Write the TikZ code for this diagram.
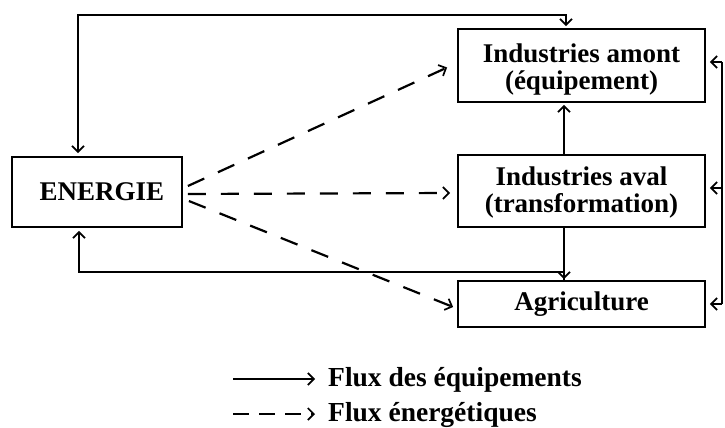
\documentclass[tikz,border=0pt]{standalone}
\usepackage{fontspec}
\setmainfont{Liberation Serif}
\usetikzlibrary{arrows.meta,calc}
\tikzset{tip/.tip={Straight Barb[length=6pt,width=12pt,line width=1.7pt]}}
\begin{document}
\begin{tikzpicture}[x=1pt,y=-1pt,
  box/.style={draw,line width=1.8pt,inner sep=0pt,align=center,
    font=\bfseries\fontsize{27}{27}\selectfont},
  eq/.style={line width=2pt,-tip},
  eqline/.style={line width=2pt},
  en/.style={line width=2.2pt,dash pattern=on 18pt off 15pt,-tip},
  lab/.style={inner sep=0pt,font=\bfseries\fontsize{27.5}{28}\selectfont}]
\useasboundingbox (0,0) rectangle (725,428);
\fill[white] (0,0) rectangle (725,428);
% boxes
\node[box,minimum width=247pt,minimum height=73pt] (amont) at (581.5,65.5) {};
\node[box,minimum width=247pt,minimum height=72pt] (aval) at (581.5,191) {};
\node[box,minimum width=247pt,minimum height=46pt] (agri) at (581.5,304) {};
\node[box,minimum width=170pt,minimum height=70pt] (energie) at (97,192) {};
\node[box,draw=none,anchor=center] (tamont) at ($(amont.center)+(0,4)$) {Industries amont\\(équipement)};
\node[box,draw=none,anchor=center] (taval) at ($(aval.center)+(0,2)$) {Industries aval\\(transformation)};
\node[box,draw=none,anchor=center] (tagri) at (agri.center) {Agriculture};
\node[box,draw=none,anchor=center] (tener) at ($(energie.center)+(5,0)$) {ENERGIE};
% coordinates
\coordinate (topL) at (78,15);
\coordinate (topR) at (566,15);
\coordinate (vx) at (564,0);
\coordinate (botL) at (79,272);
\coordinate (botR) at (564,272);
\coordinate (bus1) at (722,62);
\coordinate (bus2) at (722,188);
\coordinate (bus3) at (722,304);
% solid flows
\draw[eqline,tip-tip,shorten <=3pt,shorten >=2pt]
  (topL |- energie.north) -- (topL) -- (topR) -- (topR |- amont.north);
\draw[eq,shorten >=2pt] (vx |- aval.north) -- (vx |- amont.south);
\draw[eq,shorten >=1pt] (vx |- aval.south) -- (vx |- agri.north);
\draw[eq,shorten >=3pt] (botR |- agri.north) -- (botR) -- (botL) -- (botL |- energie.south);
\draw[eqline] (bus1) -- (bus3);
\draw[eq,shorten >=4pt] (bus1) -- (amont.east |- bus1);
\draw[eq,shorten >=4pt] (bus2) -- (aval.east |- bus2);
\draw[eq,shorten >=4pt] (bus3) -- (agri.east |- bus3);
% energy flows
\draw[en] ($(energie.east)+(5,-6)$) -- ($(amont.west)+(-10,2)$);
\draw[en] ($(energie.east)+(5,2)$) -- ($(aval.west)+(-7,2)$);
\draw[en] ($(energie.east)+(6,9)$) -- ($(agri.west)+(-4,3)$);
% legend
\node[lab,anchor=base west] (l1) at (328,386) {Flux des équipements};
\node[lab,anchor=base west] (l2) at (328,421) {Flux énergétiques};
\draw[eq] ($(l1.base west)+(-95,-7)$) -- ($(l1.base west)+(-13,-7)$);
\draw[en,dash pattern=on 16pt off 10pt] ($(l2.base west)+(-95,-7)$) -- ($(l2.base west)+(-13,-7)$);
\end{tikzpicture}
\end{document}
